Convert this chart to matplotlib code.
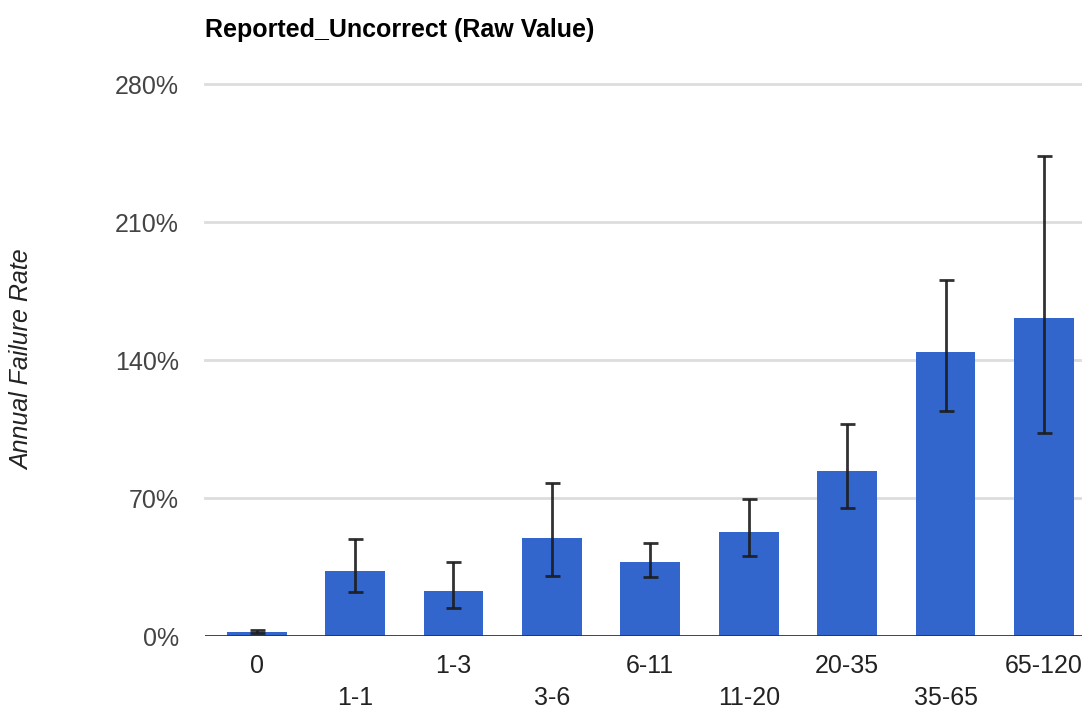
import matplotlib
matplotlib.use("Agg")
import matplotlib.pyplot as plt
import numpy as np

plt.rcParams['font.family'] = ['Liberation Sans', 'DejaVu Sans']

categories = ["0", "1-1", "1-3", "3-6", "6-11", "11-20", "20-35", "35-65", "65-120"]
afr = [2.2, 33.0, 23.0, 49.7, 37.4, 52.6, 83.9, 144.2, 161.5]
err_low = [1.6, 22.2, 14.4, 30.6, 30.1, 40.8, 65.1, 114.2, 102.8]
err_high = [3.2, 49.2, 37.7, 77.6, 47.3, 69.3, 107.6, 180.6, 243.7]
y_ticks = [0, 70, 140, 210, 280]
y_tick_labels = ["0%", "70%", "140%", "210%", "280%"]
title = "Reported_Uncorrect (Raw Value)"
y_label = "Annual Failure Rate"

W, H = 1082, 709
fig = plt.figure(figsize=(W / 100, H / 100), dpi=100)
ax = fig.add_axes([205 / W, 1 - 636 / H, 877 / W, (636 - 84.1) / H])

x = np.arange(len(categories))
vals = np.array(afr)
lo = vals - np.array(err_low)
hi = np.array(err_high) - vals

ax.bar(x, vals, width=0.607, color="#3366cc", zorder=2)
ax.errorbar(x, vals, yerr=[lo, hi], fmt="none", ecolor="#1c1c1c", elinewidth=2.0,
            capsize=5.4, capthick=2.0, alpha=0.9, zorder=3)

ax.set_xlim(-0.525, 8.387)
ax.set_ylim(0, 280)
ax.set_yticks(y_ticks)
ax.set_yticklabels(y_tick_labels)
ax.set_xticks([])
for s in ax.spines.values():
    s.set_visible(False)
for t in y_ticks[1:]:
    ax.axhline(t, color="#dddddd", lw=2.0, zorder=1, clip_on=False)
ax.axhline(0, color="#333333", lw=2.0, zorder=4)

ax.tick_params(axis="y", length=0, pad=26 * 0.72, labelsize=18, labelcolor="#444444")

for i, c in enumerate(categories):
    off = -30 if i % 2 == 0 else -62
    ax.annotate(c, xy=(i, 0), xycoords=("data", "axes fraction"),
                xytext=(0, off * 0.72), textcoords="offset points",
                ha="center", va="center", fontsize=18, color="#222222",
                annotation_clip=False)

fig.text(205 / W, 1 - 30 / H, title, ha="left", va="center", fontsize=18,
         fontweight="bold", color="#000000")
fig.text(22 / W, 1 - 360 / H, y_label, ha="center", va="center", rotation=90,
         fontsize=18, style="italic", color="#222222")

fig.savefig("out.png", dpi=100)
